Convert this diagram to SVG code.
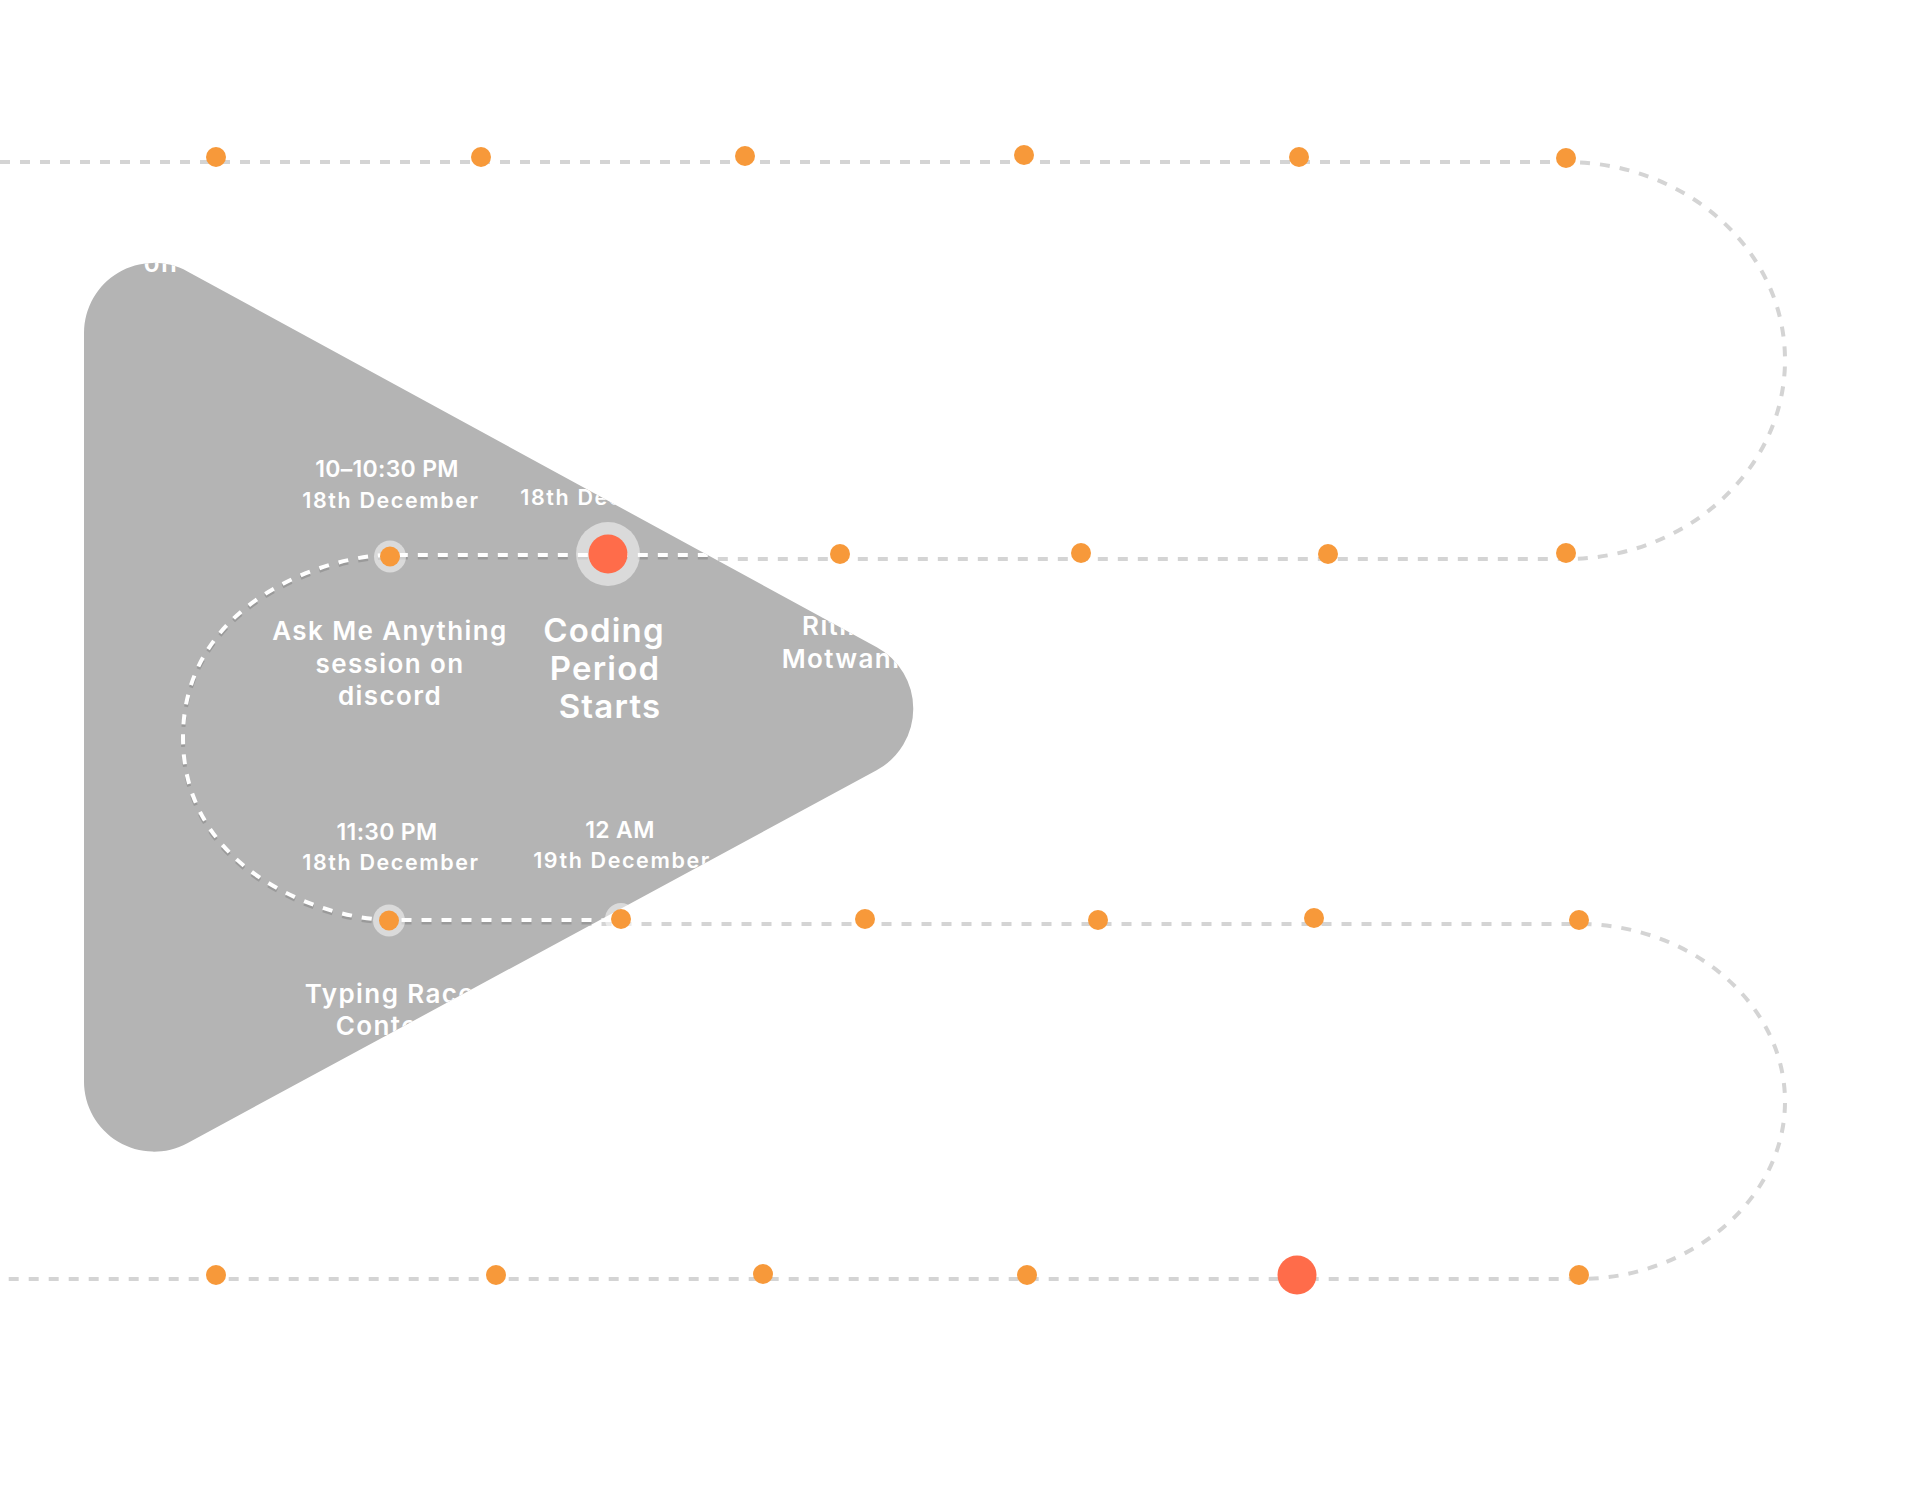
<svg xmlns="http://www.w3.org/2000/svg" xmlns:xlink="http://www.w3.org/1999/xlink" width="1916" height="1489" viewBox="0 0 1916 1489">
<style>
.road{fill:none;stroke:#d4d4d4;stroke-width:4;stroke-dasharray:10 10}
.road-w{fill:none;stroke:#ffffff;stroke-width:4;stroke-dasharray:10 10}
.road-s{fill:none;stroke:#000;stroke-opacity:.14;stroke-width:4;stroke-dasharray:10 10}
.dot{fill:#f7993a}
.red{fill:#ff6c4a}
.halo{fill:#ffffff;fill-opacity:.5}
text{fill:#ffffff;font-family:Inter,Lato,"Noto Sans",sans-serif;font-weight:600;text-anchor:middle}
.time{font-size:23px;letter-spacing:0.3px}
.date{font-size:21.5px;letter-spacing:1.6px}
.title{font-size:26px;letter-spacing:1.4px}
.big{font-size:33px;letter-spacing:1.2px}
</style>
<defs>
<path id="road" d="M0,162 L1566,162 C1686,162 1785,250 1785,360 C1785,470 1686,559 1566,559 L390,559 C330,559 183,604 183,741.5 C183,879 330,924 390,924 L1579,924 C1690,924 1785,1003 1785,1101.5 C1785,1200 1690,1279 1579,1279 L0,1279"/>
<path id="triShape" d="M84,332.9 A70,70 0 0 1 187.5,271.4 L876.8,647.3 A70,70 0 0 1 876.6,770.3 L187.3,1143.2 A70,70 0 0 1 84,1081.6 Z"/>
<clipPath id="tri"><use xlink:href="#triShape"/></clipPath>
</defs>
<rect width="1916" height="1489" fill="#ffffff"/>
<g id="connectors">
<use xlink:href="#road" class="road"/>
</g>
<g id="play-shape">
<use xlink:href="#triShape" fill="#b4b4b4"/>
</g>
<g id="connectors-inside" clip-path="url(#tri)">
<use xlink:href="#road" class="road-s" transform="translate(0,-1.5)"/>
<use xlink:href="#road" class="road-w" transform="translate(0,-4)"/>
</g>
<g id="labels" clip-path="url(#tri)">
<g id="label-row1-a"><text class="title" x="217" y="272">on discord</text></g>
<g id="label-ama"><text class="time" x="387" y="477">10–10:30 PM</text><text class="date" x="391" y="507.5">18th December</text><text class="title" x="390" y="640">Ask Me Anything</text><text class="title" x="390" y="672.5">session on</text><text class="title" x="390" y="705">discord</text></g>
<g id="label-coding"><text class="date" x="609" y="505">18th December</text><text class="big" x="604" y="642">Coding</text><text class="big" x="605" y="679.5">Period</text><text class="big" x="610" y="718">Starts</text></g>
<g id="label-ritika"><text class="title" x="841" y="635">Ritika</text><text class="title" x="841" y="668">Motwani</text></g>
<g id="label-typing"><text class="time" x="387" y="840">11:30 PM</text><text class="date" x="391" y="870">18th December</text><text class="title" x="390" y="1002.5">Typing Race</text><text class="title" x="390" y="1035">Contest</text></g>
<g id="label-12am"><text class="time" x="620" y="838">12 AM</text><text class="date" x="622" y="868">19th December</text></g>
</g>
<g id="row1">
<g id="n1-1"><circle class="dot" cx="216" cy="157" r="10"/></g>
<g id="n1-2"><circle class="dot" cx="481" cy="157" r="10"/></g>
<g id="n1-3"><circle class="dot" cx="745" cy="156" r="10"/></g>
<g id="n1-4"><circle class="dot" cx="1024" cy="155" r="10"/></g>
<g id="n1-5"><circle class="dot" cx="1299" cy="157" r="10"/></g>
<g id="n1-6"><circle class="dot" cx="1566" cy="158" r="10"/></g>
</g>
<g id="row2">
<g id="n2-ama"><circle class="halo" cx="390" cy="556.5" r="16"/><circle class="dot" cx="390" cy="556.5" r="10"/></g>
<g id="n2-coding"><circle class="halo" cx="608" cy="554" r="32"/><circle class="red" cx="608" cy="554" r="19.5"/></g>
<g id="n2-ritika"><circle class="dot" cx="840" cy="554" r="10"/></g>
<g id="n2-4"><circle class="dot" cx="1081" cy="553" r="10"/></g>
<g id="n2-5"><circle class="dot" cx="1328" cy="554" r="10"/></g>
<g id="n2-6"><circle class="dot" cx="1566" cy="553" r="10"/></g>
</g>
<g id="row3">
<g id="n3-typing"><circle class="halo" cx="389" cy="920.5" r="16"/><circle class="dot" cx="389" cy="920.5" r="10"/></g>
<g id="n3-12am"><circle class="halo" cx="621" cy="919" r="16"/><circle class="dot" cx="621" cy="919" r="10"/></g>
<g id="n3-3"><circle class="dot" cx="865" cy="919" r="10"/></g>
<g id="n3-4"><circle class="dot" cx="1098" cy="920" r="10"/></g>
<g id="n3-5"><circle class="dot" cx="1314" cy="918" r="10"/></g>
<g id="n3-6"><circle class="dot" cx="1579" cy="920" r="10"/></g>
</g>
<g id="row4">
<g id="n4-1"><circle class="dot" cx="216" cy="1275" r="10"/></g>
<g id="n4-2"><circle class="dot" cx="496" cy="1275" r="10"/></g>
<g id="n4-3"><circle class="dot" cx="763" cy="1274" r="10"/></g>
<g id="n4-4"><circle class="dot" cx="1027" cy="1275" r="10"/></g>
<g id="n4-5"><circle class="red" cx="1297" cy="1275" r="19.5"/></g>
<g id="n4-6"><circle class="dot" cx="1579" cy="1275" r="10"/></g>
</g>
</svg>
